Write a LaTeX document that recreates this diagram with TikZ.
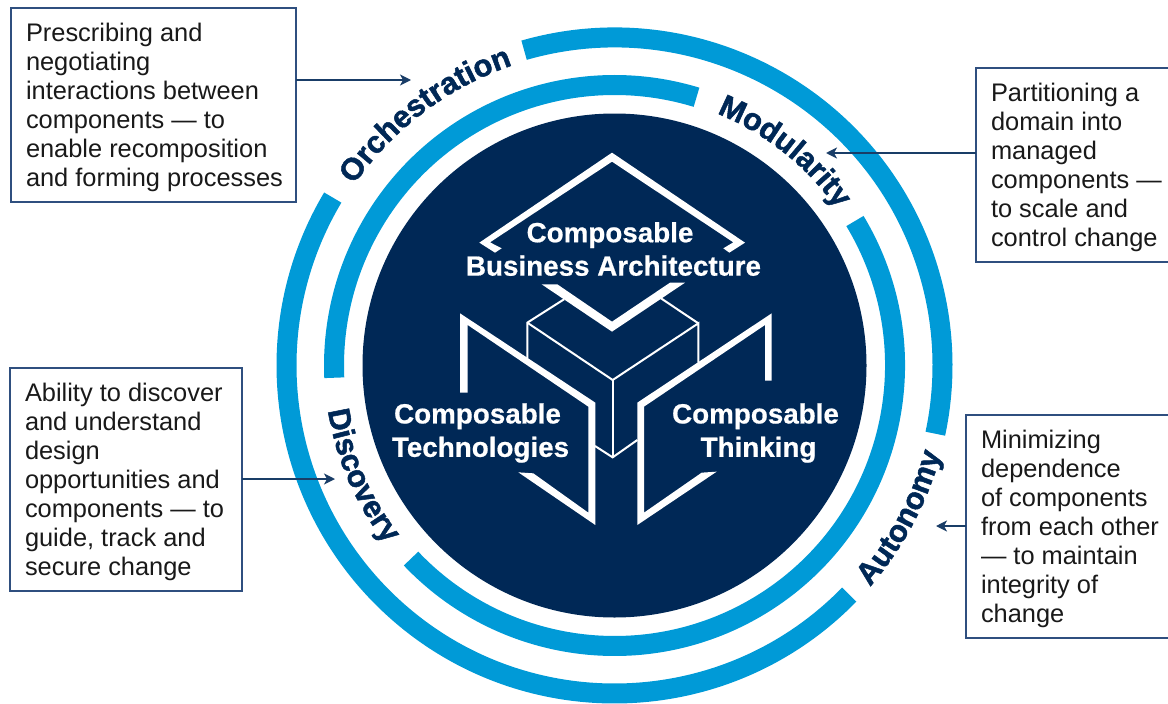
\documentclass[tikz,border=0pt]{standalone}
\usepackage{fontspec}
\setmainfont{Liberation Sans}
\newfontfamily\heavyfont[BoldFeatures={FakeBold=1.6}]{Liberation Sans}
\newfontfamily\semiheavyfont[BoldFeatures={FakeBold=0.6}]{Liberation Sans}
\usetikzlibrary{decorations.text,arrows.meta}
\definecolor{navy}{HTML}{002856}
\definecolor{ringblue}{HTML}{009AD7}
\definecolor{boxline}{HTML}{2F4F7F}
\newcommand{\arclabelfont}{\heavyfont\fontsize{30.8}{31}\selectfont\bfseries\color{navy}}
\newcommand{\boxtext}[2]{\makebox[#1pt][l]{\hspace{15pt}\begin{tabular}{@{}l@{}}\rule{0pt}{27.5pt}#2\end{tabular}}}
\tikzset{
  infobox/.style={draw=boxline,line width=1.5pt,anchor=north west,inner sep=0pt,outer sep=0pt,font=\fontsize{25.4}{29}\selectfont,text=black!90},
  ringarc/.style={draw=ringblue,line width=20pt},
  pointer/.style={draw=navy!90!white,line width=1.4pt,-{Stealth[length=11pt,width=11pt,inset=3pt]}},
  corelabel/.style={text=white,align=center,font=\semiheavyfont\fontsize{27.8}{33.4}\selectfont\bfseries},
  cubeline/.style={draw=white,line width=2pt},
  glyph/.style={fill=white,draw=none},
  arclabel/.style={decorate,decoration={text along path,text align=center,text={|\arclabelfont|#1}}}
}
\begin{document}
\begin{tikzpicture}[x=1pt,y=1pt]
\useasboundingbox (0,-704) rectangle (1168,0);
\clip (0,-704) rectangle (1168,0);
\coordinate (c) at (614.5,-365.5);
% core
\fill[navy] (c) circle (252pt);
% rings
\draw[ringarc] (c) ++(106:328pt) arc[start angle=106,end angle=-12,radius=328pt];
\draw[ringarc] (c) ++(-44.3:328pt) arc[start angle=-44.3,end angle=-210.8,radius=328pt];
\draw[ringarc] (c) ++(73:280.5pt) arc[start angle=73,end angle=182.5,radius=280.5pt];
\draw[ringarc] (c) ++(31:280.5pt) arc[start angle=31,end angle=-136.5,radius=280.5pt];
% curved labels
\path[arclabel=Orchestration] (c) ++(148:317pt) arc[start angle=148,end angle=106,radius=317pt];
\path[arclabel=Modularity] (c) ++(72:272pt) arc[start angle=72,end angle=31,radius=272pt];
\path[arclabel=Autonomy] (c) ++(-45:338pt) arc[start angle=-45,end angle=-11,radius=338pt];
\path[arclabel=Discovery] (c) ++(183:290pt) arc[start angle=183,end angle=224,radius=290pt];
% cube, in 3x zoom coordinates
\begin{scope}[shift={(440,-140)},x=0.33333pt,y=-0.33333pt]
\fill[glyph] (516,38) -- (915,308) -- (868,338) -- (850,325) -- (880,307) -- (516,65) -- (150,307) -- (185,325) -- (165,338) -- (118,308) -- cycle;
\fill[glyph] (305,433) -- (352,433) -- (516,545) -- (690,428) -- (735,428) -- (516,575) -- cycle;
\fill[glyph] (60,520) -- (60,758) -- (83,758) -- (83,555) -- (445,800) -- (445,1118) -- (280,1000) -- (235,997) -- (466,1155) -- (466,788) -- cycle;
\fill[glyph] (995,520) -- (995,722) -- (975,722) -- (975,555) -- (612,800) -- (612,1118) -- (785,998) -- (830,995) -- (592,1155) -- (592,788) -- cycle;
\draw[cubeline] (372,478) -- (262,548) -- (262,655);
\draw[cubeline] (262,548) -- (518,720) -- (775,550) -- (775,668);
\draw[cubeline] (663,475) -- (775,550);
\draw[cubeline] (518,720) -- (518,952);
\draw[cubeline] (465,918) -- (518,952) -- (592,900);
\end{scope}
\node[corelabel] (arch) at (613.5,-249) {\hspace*{-7pt}Composable\\Business Architecture};
\node[corelabel] (tech) at (480.5,-433) {\hspace*{-6pt}Composable\\Technologies};
\node[corelabel] (think) at (755.5,-433) {Composable\\\hspace*{6pt}Thinking};
% boxes
\node[infobox,minimum width=285pt,minimum height=194pt] (b1) at (11,-8) {\boxtext{285}{Prescribing and\\negotiating\\interactions between\\components — to\\enable recomposition\\and forming processes}};
\node[infobox,minimum width=200pt,minimum height=194pt] (b2) at (976,-68) {\boxtext{200}{Partitioning a\\domain into\\managed\\components —\\to scale and\\control change}};
\node[infobox,minimum width=232pt,minimum height=223pt] (b3) at (10,-368) {\boxtext{232}{Ability to discover\\and understand\\design\\opportunities and\\components — to\\guide, track and\\secure change}};
\node[infobox,minimum width=210pt,minimum height=223pt] (b4) at (966,-415) {\boxtext{210}{Minimizing\\dependence\\of components\\from each other\\— to maintain\\integrity of\\change}};
% pointers
\coordinate (p1) at (411,-80);
\coordinate (p2) at (826,-153);
\coordinate (p3) at (335,-479);
\coordinate (p4) at (936,-526);
\draw[pointer] (b1.east |- p1) -- (p1);
\draw[pointer] (b2.west |- p2) -- (p2);
\draw[pointer] (b3.east |- p3) -- (p3);
\draw[pointer] (b4.west |- p4) -- (p4);
\end{tikzpicture}
\end{document}
